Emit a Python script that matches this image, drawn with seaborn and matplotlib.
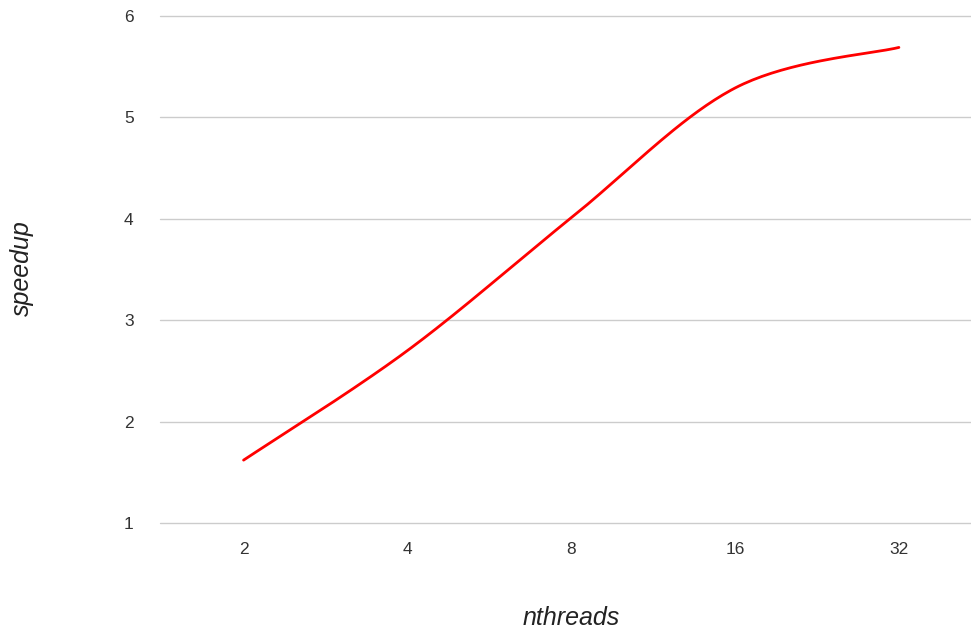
import numpy as np
import pandas as pd
import matplotlib
matplotlib.use("Agg")
import matplotlib.pyplot as plt
import seaborn as sns

# data
nthreads = ["2", "4", "8", "16", "32"]
speedup = [1.62, 2.70, 4.01, 5.29, 5.69]


def smooth_curve(xs, ys, steps=40):
    # catmull-rom style smoothing, like the "function" curve type
    xs = np.asarray(xs, float)
    ys = np.asarray(ys, float)
    px = np.concatenate([[xs[0]], xs, [xs[-1]]])
    py = np.concatenate([[ys[0]], ys, [ys[-1]]])
    out_x, out_y = [], []
    for i in range(1, len(px) - 2):
        t = np.linspace(0, 1, steps, endpoint=(i == len(px) - 3))
        for p, out in ((px, out_x), (py, out_y)):
            p0, p1, p2, p3 = p[i - 1], p[i], p[i + 1], p[i + 2]
            m1 = (p2 - p0) / 2
            m2 = (p3 - p1) / 2
            h00 = 2 * t**3 - 3 * t**2 + 1
            h10 = t**3 - 2 * t**2 + t
            h01 = -2 * t**3 + 3 * t**2
            h11 = t**3 - t**2
            out.extend(h00 * p1 + h10 * m1 + h01 * p2 + h11 * m2)
    return np.array(out_x), np.array(out_y)


sns.set_theme(style="white")
plt.rcParams["font.family"] = ["Liberation Sans", "DejaVu Sans"]

fig = plt.figure(figsize=(9.71, 6.30), dpi=100)
ax = fig.add_axes([160 / 971, 1 - 523 / 630, 1 - 160 / 971, (523 - 16) / 630])

pos = np.arange(len(nthreads))
sx, sy = smooth_curve(pos, speedup)
df = pd.DataFrame({"x": sx, "y": sy})
sns.lineplot(data=df, x="x", y="y", color="#ff0000", linewidth=2, sort=False,
             estimator=None, ax=ax)

ax.set_xlim(-0.51, 4.44)
ax.set_ylim(1, 6)
ax.set_yticks([1, 2, 3, 4, 5, 6])
ax.set_xticks(pos)
ax.set_xticklabels(nthreads)
ax.grid(axis="y", color="#cccccc", linewidth=1)
for gl in ax.get_ygridlines():
    gl.set_clip_on(False)
ax.set_axisbelow(True)
for s in ax.spines.values():
    s.set_visible(False)
ax.tick_params(axis="both", length=0, labelsize=12.5, labelcolor="#333333")
ax.tick_params(axis="y", pad=19)
ax.tick_params(axis="x", pad=14)

ax.set_xlabel("nthreads", fontsize=18, style="italic", color="#222222")
ax.set_ylabel("speedup", fontsize=18, style="italic", color="#222222")
ax.xaxis.set_label_coords((571 - 160) / 811, -(618 - 523) / 507)
ax.xaxis.label.set_va("center")
ax.yaxis.set_label_coords(-(160 - 22) / 811, (523 - 268) / 507)
ax.yaxis.label.set_va("center")

fig.savefig("out.png", dpi=100)
